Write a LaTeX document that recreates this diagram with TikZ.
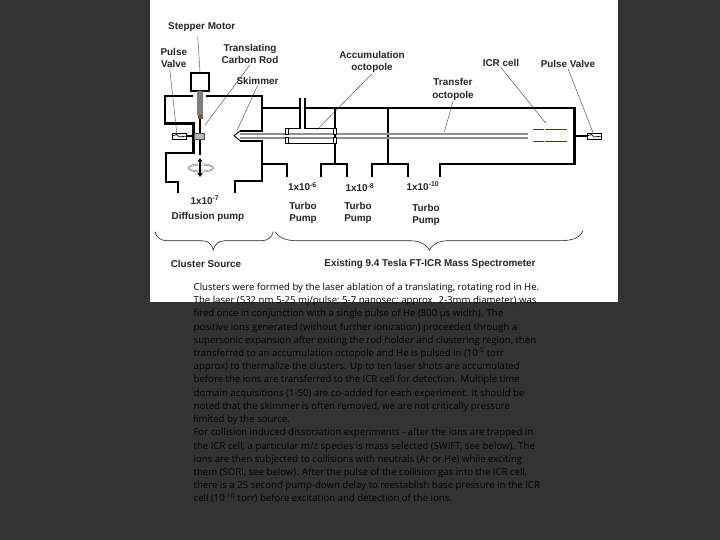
\documentclass[tikz,border=0pt]{standalone}
\usepackage{fontspec}
\setmainfont{Liberation Sans}
\newfontfamily\bodyfont{Open Sans}
\usepackage{tikz}
\usetikzlibrary{arrows.meta,calc,positioning}
\definecolor{slideDark}{RGB}{51,51,51}
\definecolor{rodGray}{RGB}{125,125,125}
\definecolor{tipBrown}{RGB}{120,85,60}
\definecolor{cellBrown}{RGB}{75,60,25}
\tikzset{
  wall/.style={line width=2.2pt, line cap=butt, line join=miter},
  ionrod/.style={line width=1.8pt, draw=rodGray!85},
  leader/.style={line width=0.4pt, draw=black!75},
  lbl/.style={font=\fontsize{9.9}{12.3}\selectfont\bfseries, text=black!85, align=center, inner sep=0pt, outer sep=1pt},
  valve/.style={draw=black, fill=white, line width=0.7pt, minimum width=14pt, minimum height=6pt, inner sep=0pt},
  brace/.style={line width=0.6pt, draw=black!85}
}
\begin{document}
\begin{tikzpicture}[x=1pt, y=-1pt]
  \fill[slideDark] (0,0) rectangle (720,540);
  \fill[white] (150,0) rectangle (618,302);
  \useasboundingbox (0,0) rectangle (720,540);
  % source chamber
  \draw[wall] (193,96) -- (165,96) -- (165,123.5) -- (193.5,123.5) -- (193.5,153) -- (165.7,153) -- (165.7,181.7) -- (178,181.7) -- (178,193);
  \draw[wall] (206,96) -- (262,96) -- (262,130.7) -- (240,130.7);
  \draw[wall] (240,140.7) -- (262,140.7) -- (262,180.7) -- (235,180.7) -- (235,193);
  \draw[line width=0.9pt] (240,131) -- (234,135.7) -- (240,140.7);
  % spectrometer
  \draw[wall] (262,107.7) -- (300,107.7) (305,107.7) -- (574.5,107.7) -- (574.5,164) -- (440,164) -- (440,176.7);
  \draw[wall] (262,163.7) -- (286.7,163.7) -- (286.7,176.7);
  \draw[wall] (320.7,176.7) -- (320.7,163.7) -- (346.7,163.7) -- (346.7,176.7);
  \draw[wall] (335,107.7) -- (335,163.7);
  \draw[wall] (371.7,176.7) -- (371.7,164) -- (408,164) -- (408,176.7);
  \draw[wall] (387.7,107.7) -- (387.7,164);
  \draw[line width=1.3pt] (300,98) -- (300,128.3) -- (288,128.3) (305,98) -- (305,128.3) -- (335,128.3);
  \draw[line width=1.3pt] (288,143.3) -- (335,143.3);
  % ion guides
  \draw[ionrod] (240,133.8) -- (527.7,133.8);
  \draw[ionrod] (240,138.2) -- (527.7,138.2);
  \foreach \xpos in {287, 335} {
    \draw[line width=0.7pt, fill=white] (\xpos-1.7,128) rectangle (\xpos+1.7,134);
    \draw[line width=0.7pt, fill=white] (\xpos-1.7,137.5) rectangle (\xpos+1.7,143.5);
  }
  % ICR cell
  \foreach \ypos in {129.5, 141.7} {
    \foreach \xpos in {532.7, 544.5, 556} {
      \draw[cellBrown, line width=1.6pt] (\xpos,\ypos) -- ++(11,0);
    }
  }
  % rod and motor
  \node[draw=black, line width=2.2pt, minimum size=18pt, inner sep=0pt] (motor) at (200,82) {};
  \fill[rodGray] (197,91) rectangle (203,115);
  \fill[tipBrown] (197.5,115) rectangle (202.5,119);
  \draw[line width=1.5pt] (200,119) -- (200,155);
  \node[draw=black!70, fill=rodGray!55, line width=0.5pt, minimum width=10pt, minimum height=6pt, inner sep=0pt] (holder) at (199.7,136) {};
  \node[valve] (valveL) at (179.7,136) {};
  \node[valve] (valveR) at (594.5,136) {};
  \draw[line width=0.7pt] (valveL.west) -- ++(4,-1.5) -- ++(3,2.5) -- (valveL.east);
  \draw[line width=0.7pt] (valveR.west) -- ++(4,-1.5) -- ++(3,2.5) -- (valveR.east);
  \draw[line width=1.2pt] (valveL) -- (holder);
  \draw[line width=1.8pt] (574.5,136) -- (valveR);
  % motion of the rod
  \draw[line width=1.8pt, draw=rodGray] (201,168) ellipse (12.5pt and 3.6pt);
  \draw[line width=0.6pt, draw=white] (201,168) ellipse (12.5pt and 3.6pt);
  \draw[{Latex[length=3.5pt,width=6pt]}-{Latex[length=3.5pt,width=6pt]}, line width=2.6pt] (200,158) -- (200,177);
  % labels
  \node[lbl] (lblMotor) at (201.7,27.2) {Stepper Motor};
  \node[lbl] (lblValveL) at (173.8,58) {Pulse\\Valve};
  \node[lbl] (lblRod) at (250,54) {Translating\\Carbon Rod};
  \node[lbl] (lblSkimmer) at (257.5,81) {Skimmer};
  \node[lbl] (lblAccum) at (372,62) {Accumulation\\octopole};
  \node[lbl] (lblTransfer) at (453,89.5) {Transfer\\octopole};
  \node[lbl] (lblICR) at (501,63) {ICR cell};
  \node[lbl] (lblValveR) at (568,64) {Pulse Valve};
  \node[lbl] (lblSeven) at (205,200) {1x10\textsuperscript{-7}};
  \node[lbl] (lblDiff) at (208,216.7) {Diffusion pump};
  \node[lbl] (lblSix) at (302.5,186.7) {1x10\textsuperscript{-6}};
  \node[lbl] (lblEight) at (360,187.5) {1x10\textsuperscript{-8}};
  \node[lbl] (lblTen) at (423,186) {1x10\textsuperscript{-10}};
  \node[lbl] (lblTurboA) at (303,213) {Turbo\\Pump};
  \node[lbl] (lblTurboB) at (358,213) {Turbo\\Pump};
  \node[lbl] (lblTurboC) at (426,215) {Turbo\\Pump};
  \node[lbl] (lblSource) at (206,264) {Cluster Source};
  \node[lbl] (lblExisting) at (430,264) {Existing 9.4 Tesla FT-ICR Mass Spectrometer};
  % leaders
  \coordinate (endValveL) at (176.7,132.5);
  \coordinate (endRod) at (205,125);
  \coordinate (endSkimmer) at (237.3,130);
  \coordinate (endAccum) at (316.7,130);
  \coordinate (endTransfer) at (444.3,132);
  \coordinate (endICR) at (545.7,123);
  \coordinate (endValveR) at (593,132.5);
  \draw[leader] (lblMotor.south) ++(-4,3) -- (motor.north);
  \draw[leader] (lblValveL.south) ++(-4,1) -- (endValveL);
  \draw[leader] (lblRod.south) -- (endRod);
  \draw[leader] (lblSkimmer.south) -- (endSkimmer);
  \draw[leader] (lblAccum.south) -- (endAccum);
  \draw[leader] (lblTransfer.south) -- (endTransfer);
  \draw[leader] (lblICR.south) -- (endICR);
  \draw[leader] (lblValveR.south) -- (endValveR);
  % braces
  \draw[brace] (155,231.7) .. controls (156.5,237) and (160,240.7) .. (167,240.7) -- (202,240.7) .. controls (209,240.7) and (212,245) .. (213.3,250) .. controls (214.5,245) and (218,240.7) .. (225,240.7) -- (262,240.7) .. controls (268,240.7) and (272,237) .. (273.3,231.7);
  \draw[brace] (275,231.7) .. controls (279,238) and (286,240.7) .. (297,240.7) -- (410,240.7) .. controls (420,240.7) and (427,245) .. (429.3,250) .. controls (432,245) and (438,240.7) .. (448,240.7) -- (560,240.7) .. controls (572,240.7) and (580,238) .. (582.7,231);
  % caption
  \node[anchor=north west, inner sep=0pt, align=left, text=black, font=\bodyfont\fontsize{9.6}{13.22}\selectfont] (caption) at (193.5,282.9) {Clusters were formed by the laser ablation of a translating, rotating rod in He.\\
The laser (532 nm 5-25 mj/pulse; 5-7 nanosec; approx. 2-3mm diameter) was\\
fired once in conjunction with a single pulse of He (800 µs width). The\\
positive ions generated (without further ionization) proceeded through a\\
supersonic expansion after exiting the rod holder and clustering region, then\\
transferred to an accumulation octopole and He is pulsed in (10\textsuperscript{-5} torr\\
approx) to thermalize the clusters. Up to ten laser shots are accumulated\\
before the ions are transferred to the ICR cell for detection. Multiple time\\
domain acquisitions (1-50) are co-added for each experiment. It should be\\
noted that the skimmer is often removed, we are not critically pressure\\
limited by the source.\\
For collision induced dissociation experiments - after the ions are trapped in\\
the ICR cell, a particular m/z species is mass selected (SWIFT, see below). The\\
ions are then subjected to collisions with neutrals (Ar or He) while exciting\\
them (SORI, see below). After the pulse of the collision gas into the ICR cell,\\
there is a 25 second pump-down delay to reestablish base pressure in the ICR\\
cell (10\textsuperscript{-10} torr) before excitation and detection of the ions.};
\end{tikzpicture}
\end{document}
